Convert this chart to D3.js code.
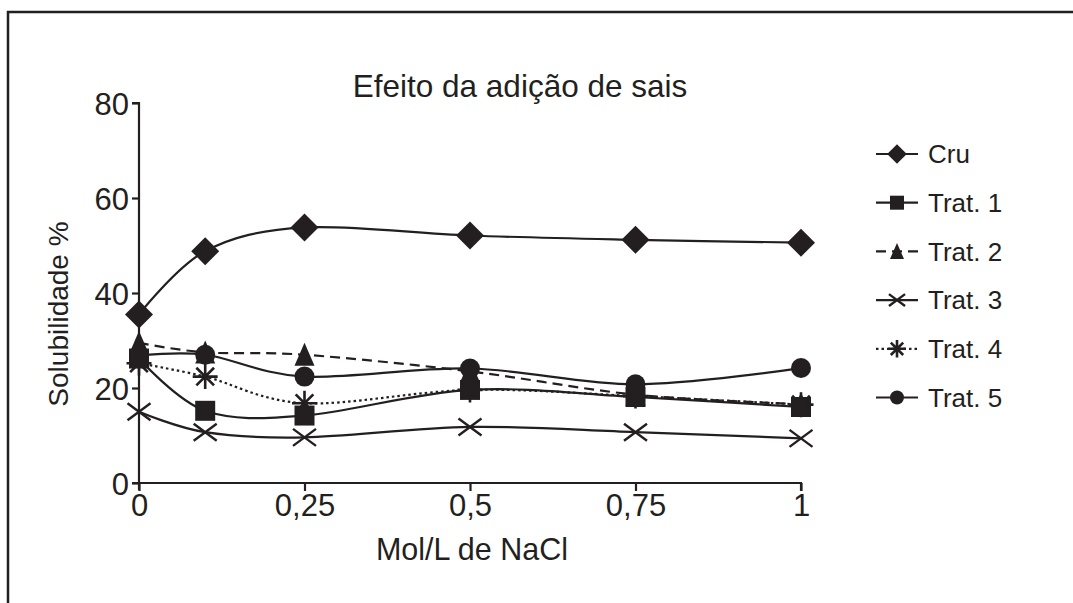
<!DOCTYPE html>
<html>
<head>
<meta charset="utf-8">
<script src="https://cdn.jsdelivr.net/npm/d3@7"></script>
<style>
  body { margin: 0; background: #fff; }
  svg { display: block; font-family: "Liberation Sans", Arial, sans-serif; }
  text { fill: #231f20; }
</style>
</head>
<body>
<script>
const concentrations = [0, 0.1, 0.25, 0.5, 0.75, 1];
const seriesNames = ["Cru", "Trat. 1", "Trat. 2", "Trat. 3", "Trat. 4", "Trat. 5"];
const cru = [35.5, 48.8, 53.8, 52.1, 51.2, 50.6];
const trat1 = [26.2, 15.2, 14.2, 19.6, 18.1, 16.0];
const trat2 = [29.5, 27.5, 27.0, 23.5, 18.6, 16.6];
const trat3 = [15.0, 10.7, 9.6, 11.8, 10.7, 9.4];
const trat4 = [25.2, 22.4, 16.8, 19.6, 18.3, 16.5];
const trat5 = [26.8, 27.0, 22.4, 24.1, 20.8, 24.2];
const xTicks = [0, 0.25, 0.5, 0.75, 1];
const xTickLabels = ["0", "0,25", "0,5", "0,75", "1"];
const yTicks = [0, 20, 40, 60, 80];

const ink = "#231f20";
const W = 1073, H = 603;

const svg = d3.select("body").append("svg").attr("width", W).attr("height", H);

// open frame (top and left only)
svg.append("path")
  .attr("d", `M8,${H}V12H${W}`)
  .attr("fill", "none")
  .attr("stroke", ink)
  .attr("stroke-width", 2.5);

const x = d3.scaleLinear().domain([0, 1]).range([139, 801]);
const y = d3.scaleLinear().domain([0, 80]).range([483, 103]);

const yAxis = svg.append("g")
  .attr("transform", `translate(${x(0)},0)`)
  .call(d3.axisLeft(y).tickValues(yTicks).tickSize(7).tickPadding(3).tickFormat(d3.format("d")));
const xAxis = svg.append("g")
  .attr("transform", `translate(0,${y(0)})`)
  .call(d3.axisBottom(x).tickValues(xTicks).tickSize(8).tickPadding(3).tickFormat((d, i) => xTickLabels[i]));

[xAxis, yAxis].forEach(g => {
  g.select(".domain").attr("stroke", ink).attr("stroke-width", 2.2);
  g.selectAll(".tick line").attr("stroke", ink).attr("stroke-width", 2.2);
  g.selectAll(".tick text").attr("fill", ink).style("font-size", "31px").style("font-family", "Liberation Sans, Arial, sans-serif");
});
// keep the y axis line running to the bottom of the 0 tick
yAxis.select(".domain").attr("d", `M-7,${y(80)}H0V${y(0) + 7}M-7,${y(0)}H0`);
xAxis.select(".domain").attr("d", `M${x(0)},0H${x(1)}V8`);
yAxis.selectAll(".tick text").attr("dy", "0.36em");

svg.append("text")
  .attr("x", 520).attr("y", 97)
  .attr("text-anchor", "middle")
  .style("font-size", "31.5px")
  .text("Efeito da adição de sais");

svg.append("text")
  .attr("x", 472).attr("y", 560)
  .attr("text-anchor", "middle")
  .style("font-size", "30.5px")
  .text("Mol/L de NaCl");

svg.append("text")
  .attr("transform", "translate(68,314) rotate(-90)")
  .attr("text-anchor", "middle")
  .style("font-size", "28px")
  .text("Solubilidade %");

const series = [
  { name: seriesNames[0], values: cru, dash: null, marker: "diamond" },
  { name: seriesNames[1], values: trat1, dash: null, marker: "square" },
  { name: seriesNames[2], values: trat2, dash: "10,6", marker: "triangle" },
  { name: seriesNames[3], values: trat3, dash: null, marker: "cross" },
  { name: seriesNames[4], values: trat4, dash: "2.5,3", marker: "star" },
  { name: seriesNames[5], values: trat5, dash: null, marker: "circle" },
];

function marker(g, type, cx, cy, s) {
  if (type === "diamond") {
    g.append("path").attr("d", `M${cx},${cy - s * 1.4}L${cx + s * 1.4},${cy}L${cx},${cy + s * 1.4}L${cx - s * 1.4},${cy}Z`).attr("fill", ink);
  } else if (type === "square") {
    g.append("rect").attr("x", cx - s).attr("y", cy - s).attr("width", 2 * s).attr("height", 2 * s).attr("fill", ink);
  } else if (type === "triangle") {
    g.append("path").attr("d", `M${cx},${cy - s * 1.2}L${cx + s},${cy + s * 1.1}L${cx - s},${cy + s * 1.1}Z`).attr("fill", ink);
  } else if (type === "circle") {
    g.append("circle").attr("cx", cx).attr("cy", cy).attr("r", s).attr("fill", ink);
  } else if (type === "cross") {
    const a = s * 1.15, b = s * 0.85;
    g.append("path").attr("d", `M${cx - a},${cy - b}L${cx + a},${cy + b}M${cx - a},${cy + b}L${cx + a},${cy - b}`)
      .attr("stroke", ink).attr("stroke-width", 2.4).attr("fill", "none");
  } else if (type === "star") {
    let d = "";
    for (let k = 0; k < 4; k++) {
      const ang = Math.PI / 4 * k;
      d += `M${cx - Math.sin(ang) * s * 1.25},${cy - Math.cos(ang) * s * 1.25}L${cx + Math.sin(ang) * s * 1.25},${cy + Math.cos(ang) * s * 1.25}`;
    }
    g.append("path").attr("d", d).attr("stroke", ink).attr("stroke-width", 2.6).attr("fill", "none");
  }
}

const line = d3.line()
  .x((d, i) => x(concentrations[i]))
  .y(d => y(d))
  .curve(d3.curveCatmullRom.alpha(0));

const plot = svg.append("g");
series.forEach(s => {
  plot.append("path")
    .attr("d", line(s.values))
    .attr("fill", "none")
    .attr("stroke", ink)
    .attr("stroke-width", 2.2)
    .attr("stroke-dasharray", s.dash);
});
series.forEach(s => {
  const g = plot.append("g");
  s.values.forEach((v, i) => marker(g, s.marker, x(concentrations[i]), y(v), 10));
});

// legend
const legend = svg.append("g");
series.forEach((s, i) => {
  const ly = 154 + i * 48.7;
  const g = legend.append("g");
  g.append("line")
    .attr("x1", 876).attr("x2", 918).attr("y1", ly).attr("y2", ly)
    .attr("stroke", ink).attr("stroke-width", 2.2)
    .attr("stroke-dasharray", s.dash);
  marker(g, s.marker, 897, ly, 7);
  g.append("text")
    .attr("x", 928).attr("y", ly).attr("dy", "0.36em")
    .style("font-size", "26px")
    .text(s.name);
});
</script>
</body>
</html>
